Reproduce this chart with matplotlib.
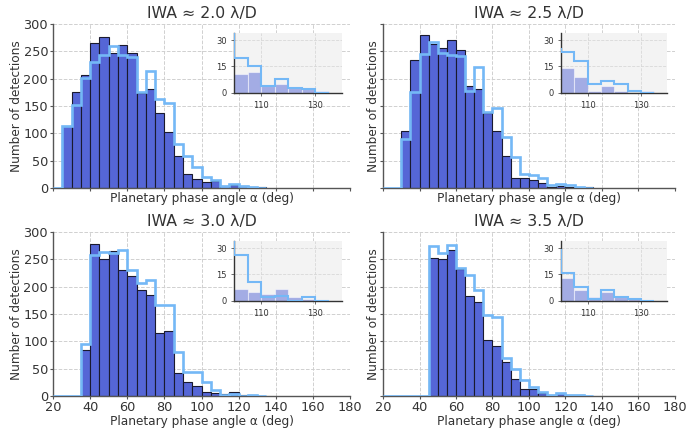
import numpy as np
import matplotlib
matplotlib.use("Agg")
import matplotlib.pyplot as plt

# ---- data ----
bin_edges = list(range(20, 140, 5))  # 20..135
titles = ["IWA ≈ 2.0 λ/D", "IWA ≈ 2.5 λ/D", "IWA ≈ 3.0 λ/D", "IWA ≈ 3.5 λ/D"]

bars_20 = [0, 114, 176, 207, 266, 276, 247, 262, 247, 173, 182, 138, 103, 58, 26, 17, 11, 12, 4, 5, 3, 2, 1]
step_20 = [0, 114, 152, 202, 230, 244, 259, 244, 239, 176, 214, 163, 156, 80, 58, 39, 20, 15, 4, 8, 3, 2, 0]

bars_25 = [0, 0, 104, 235, 280, 263, 256, 270, 253, 187, 182, 137, 104, 59, 19, 19, 14, 9, 1, 4, 1, 0, 1]
step_25 = [0, 0, 90, 176, 245, 267, 247, 244, 241, 178, 222, 139, 146, 93, 57, 25, 23, 18, 5, 7, 5, 1, 0]

bars_30 = [0, 0, 0, 84, 278, 251, 265, 230, 220, 193, 184, 115, 119, 42, 25, 18, 7, 5, 4, 7, 2, 1, 0]
step_30 = [0, 0, 0, 95, 258, 263, 261, 267, 230, 207, 212, 166, 167, 80, 44, 44, 26, 11, 2, 3, 0, 2, 0]

bars_35 = [0, 0, 0, 0, 0, 253, 251, 267, 233, 183, 172, 102, 91, 62, 32, 13, 13, 6, 2, 5, 2, 1, 0]
step_35 = [0, 0, 0, 0, 0, 275, 261, 276, 235, 222, 194, 148, 145, 69, 49, 29, 16, 8, 1, 6, 2, 1, 0]

x_ticks = [20, 40, 60, 80, 100, 120, 140, 160, 180]
y_ticks = [0, 50, 100, 150, 200, 250, 300]
inset_xticks = [110, 130]
inset_yticks = [0, 15, 30]

# ---- style ----
BAR = "#5566d6"
STEP = "#74b8f6"
TXT = "#333333"
SPINE = "#555555"

W, H = 686, 429
fig = plt.figure(figsize=(W / 100, H / 100), dpi=100)

def px_rect(l, r, t, b):
    return [l / W, 1 - b / H, (r - l) / W, (b - t) / H]

rects = [px_rect(53, 350, 24, 188), px_rect(383, 675, 24, 188),
         px_rect(53, 350, 232, 396), px_rect(383, 675, 232, 396)]
datasets = [(bars_20, step_20), (bars_25, step_25), (bars_30, step_30), (bars_35, step_35)]

edges = np.array(bin_edges)
for i, (rect, (bv, sv), title) in enumerate(zip(rects, datasets, titles)):
    ax = fig.add_axes(rect)
    ax.set_axisbelow(True)
    bv = np.array(bv, float)
    sv = np.array(sv, float)
    ax.bar(edges[:-1], bv, width=5, align="edge", color=BAR, edgecolor="#1a1a2e",
           linewidth=0.8, zorder=2)
    ax.stairs(sv, edges, color=STEP, linewidth=1.9, zorder=3)
    ax.set_xlim(20, 180)
    ax.set_ylim(0, 300)
    ax.set_xticks(x_ticks)
    ax.set_yticks(y_ticks)
    ax.grid(True, linestyle="--", color="#d0d0d0", linewidth=0.7)
    for s in ["top", "right"]:
        ax.spines[s].set_visible(False)
    for s in ["left", "bottom"]:
        ax.spines[s].set_color(SPINE)
        ax.spines[s].set_linewidth(1.0)
    ax.tick_params(colors=SPINE, labelcolor=TXT, labelsize=9.3, length=2, width=0.8, pad=1.5)
    if i < 2:
        ax.tick_params(labelbottom=False)
    if i % 2 == 1:
        ax.tick_params(labelleft=False)
    ax.set_title(title, fontsize=11.3, color=TXT, pad=4)
    ax.set_xlabel("Planetary phase angle α (deg)", fontsize=8.7, color=TXT, labelpad=1)
    ax.set_ylabel("Number of detections", fontsize=8.7, color=TXT, labelpad=0.5)

    # inset
    ins = ax.inset_axes([0.61, 0.58, 0.364, 0.365])
    ins.set_facecolor("#f3f3f3")
    ins.set_axisbelow(True)
    ins.bar(edges[:-1], bv, width=5, align="edge", color=BAR, alpha=0.5,
            edgecolor="white", linewidth=0.8, zorder=2)
    ins.stairs(sv, edges, color=STEP, linewidth=1.5, zorder=3)
    ins.set_xlim(100, 140)
    ins.set_ylim(0, 34)
    ins.set_xticks(inset_xticks)
    ins.set_yticks(inset_yticks)
    ins.grid(True, linestyle="--", color="#d8d8d8", linewidth=0.6)
    for s in ["top", "right"]:
        ins.spines[s].set_visible(False)
    for s in ["left", "bottom"]:
        ins.spines[s].set_color("#333333")
        ins.spines[s].set_linewidth(1.0)
    ins.tick_params(labelsize=6, colors="#555555", labelcolor=TXT, length=2, width=0.6)

fig.savefig("out.png", dpi=100)
